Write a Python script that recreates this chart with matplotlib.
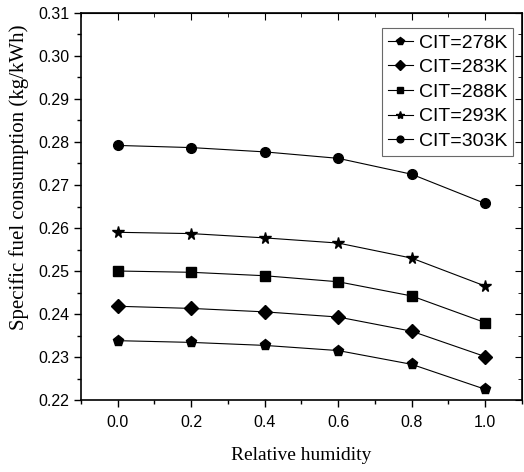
import matplotlib
matplotlib.use("Agg")
import matplotlib.pyplot as plt
from matplotlib.ticker import MultipleLocator

rh = [0.0, 0.2, 0.4, 0.6, 0.8, 1.0]
labels = ["CIT=278K", "CIT=283K", "CIT=288K", "CIT=293K", "CIT=303K"]
sfc_278 = [0.2338, 0.2334, 0.2327, 0.2315, 0.2283, 0.2225]
sfc_283 = [0.2418, 0.2413, 0.2405, 0.2393, 0.2360, 0.2301]
sfc_288 = [0.2500, 0.2497, 0.2489, 0.2475, 0.2442, 0.2380]
sfc_293 = [0.2590, 0.2587, 0.2577, 0.2565, 0.2530, 0.2465]
sfc_303 = [0.2792, 0.2787, 0.2777, 0.2762, 0.2725, 0.2657]
series = [sfc_278, sfc_283, sfc_288, sfc_293, sfc_303]
markers = ["p", "D", "s", "*", "o"]
msizes = [8, 7, 6.5, 8.5, 7]

fig = plt.figure(figsize=(5.24, 4.72), dpi=100)
ax = fig.add_axes([0.1546, 0.1525, 0.8414, 0.82])

for ys, lab, m, ms in zip(series, labels, markers, msizes):
    ax.plot(rh, ys, color="black", lw=0.8, marker=m, markersize=ms,
            markerfacecolor="black", markeredgecolor="black", label=lab)

ax.set_xlim(-0.1, 1.1)
ax.set_ylim(0.22, 0.31)
ax.xaxis.set_major_locator(MultipleLocator(0.2))
ax.xaxis.set_minor_locator(MultipleLocator(0.1))
ax.yaxis.set_major_locator(MultipleLocator(0.01))
ax.yaxis.set_minor_locator(MultipleLocator(0.005))
ax.set_xticks([0.0, 0.2, 0.4, 0.6, 0.8, 1.0])
ax.set_xticklabels(["0.0", "0.2", "0.4", "0.6", "0.8", "1.0"])
ax.set_yticklabels([f"{v:.2f}" for v in ax.get_yticks()])

ax.tick_params(axis="both", which="both", labelsize=11.5, width=1.0, direction="out")
ax.tick_params(axis="both", which="major", length=5)
ax.tick_params(axis="both", which="minor", length=3)
ax.tick_params(axis="x", which="major", pad=6)
for lab in ax.get_xticklabels() + ax.get_yticklabels():
    lab.set_fontfamily("Liberation Sans")

secx = ax.secondary_xaxis("top")
secx.xaxis.set_major_locator(MultipleLocator(0.2))
secx.xaxis.set_minor_locator(MultipleLocator(0.1))
secx.tick_params(which="both", direction="in", labeltop=False)
secx.tick_params(which="major", length=5)
secx.tick_params(which="minor", length=3)
secy = ax.secondary_yaxis("right")
secy.yaxis.set_major_locator(MultipleLocator(0.01))
secy.yaxis.set_minor_locator(MultipleLocator(0.005))
secy.tick_params(which="both", direction="in", labelright=False)
secy.tick_params(which="major", length=5)
secy.tick_params(which="minor", length=3)

for s in ax.spines.values():
    s.set_linewidth(1.2)

ax.set_xlabel("Relative humidity", fontfamily="Liberation Serif", fontsize=14, labelpad=12)
ax.set_ylabel("Specific fuel consumption (kg/kWh)", fontfamily="Liberation Serif", fontsize=15)
ax.yaxis.set_label_coords(-0.118, 0.576)

leg = ax.legend(loc="upper right", bbox_to_anchor=(0.98, 0.961), frameon=True, fancybox=False,
                edgecolor="#444444", prop={"family": "Liberation Sans", "size": 14},
                handlelength=1.3, handletextpad=0.3, borderpad=0.3, labelspacing=0.36,
                borderaxespad=0.0, markerscale=0.7)
leg.get_frame().set_linewidth(0.8)

fig.savefig("out.png", dpi=100)
